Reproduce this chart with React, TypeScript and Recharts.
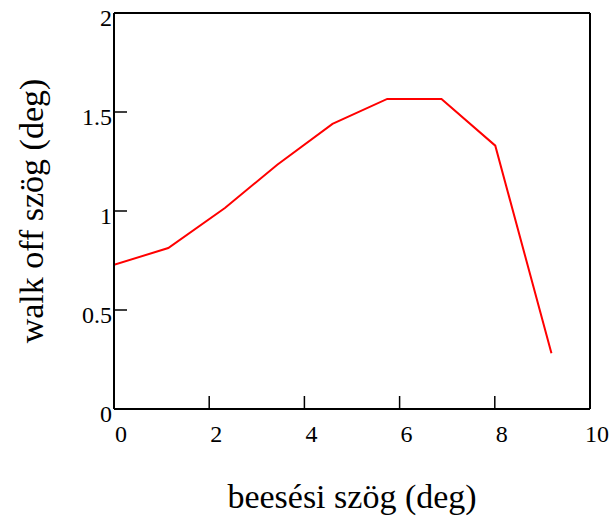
import { Line, LineChart, XAxis, YAxis } from "recharts"

// incidence angle (deg) vs walk-off angle (deg)
const incidence = [0, 1.14, 2.33, 3.43, 4.59, 5.74, 6.88, 8.01, 9.19]
const walkOff = [0.728, 0.813, 1.015, 1.234, 1.44, 1.566, 1.566, 1.33, 0.282]

const xTicks = [0, 2, 4, 6, 8, 10]
const yTicks = [0, 0.5, 1, 1.5, 2]

const xTitle = "beesési szög (deg)"
const yTitle = "walk off szög (deg)"

const data = incidence.map((x, i) => ({ x, y: walkOff[i] }))

const font = "'Liberation Serif', 'Times New Roman', serif"
const axisLine = { stroke: "#000", strokeWidth: 2 }
const tickLine = { stroke: "#000", strokeWidth: 1.5 }

function XTick(props: any) {
  const { x, y, payload } = props
  return (
    <text x={x + 7} y={y + 33} textAnchor="middle" fontSize={24} fontFamily={font} fill="#000">
      {payload.value}
    </text>
  )
}

function YTick(props: any) {
  const { x, y, payload } = props
  return (
    <text x={x} y={y + 13} textAnchor="end" fontSize={24} fontFamily={font} fill="#000">
      {payload.value}
    </text>
  )
}

export default function App() {
  return (
    <div style={{ position: "absolute", left: 0, top: 0 }}>
      <LineChart
        width={611}
        height={517}
        data={data}
        margin={{ top: 12, right: 20, bottom: 107, left: 113 }}
      >
        <XAxis
          dataKey="x"
          type="number"
          domain={[0, 10]}
          ticks={xTicks}
          allowDataOverflow
          height={1}
          tickSize={-13}
          tickMargin={13}
          axisLine={axisLine}
          tickLine={tickLine}
          tick={<XTick />}
          label={{
            content: ({ viewBox }: any) => (
              <text
                x={viewBox.x + viewBox.width / 2}
                y={508}
                textAnchor="middle"
                fontSize={34}
                fontFamily={font}
                fill="#000"
              >
                {xTitle}
              </text>
            ),
          }}
        />
        <XAxis
          xAxisId="top"
          orientation="top"
          dataKey="x"
          type="number"
          domain={[0, 10]}
          ticks={xTicks}
          allowDataOverflow
          height={1}
          tickSize={-13}
          axisLine={axisLine}
          tickLine={tickLine}
          tick={false}
        />
        <YAxis
          type="number"
          domain={[0, 2]}
          ticks={yTicks}
          allowDataOverflow
          width={1}
          tickSize={-13}
          tickMargin={15}
          axisLine={axisLine}
          tickLine={tickLine}
          tick={<YTick />}
          label={{
            content: ({ viewBox }: any) => {
              const cy = viewBox.y + viewBox.height / 2
              return (
                <text
                  x={43}
                  y={cy}
                  transform={`rotate(-90, 43, ${cy})`}
                  textAnchor="middle"
                  fontSize={34}
                  fontFamily={font}
                  fill="#000"
                >
                  {yTitle}
                </text>
              )
            },
          }}
        />
        <YAxis
          yAxisId="right"
          orientation="right"
          type="number"
          domain={[0, 2]}
          ticks={yTicks}
          allowDataOverflow
          width={1}
          tickSize={-13}
          axisLine={axisLine}
          tickLine={tickLine}
          tick={false}
        />
        <Line
          dataKey="y"
          type="linear"
          stroke="#ff0000"
          strokeWidth={2}
          dot={false}
          isAnimationActive={false}
        />
        <Line
          xAxisId="top"
          yAxisId="right"
          dataKey="y"
          stroke="none"
          dot={false}
          activeDot={false}
          legendType="none"
          isAnimationActive={false}
        />
      </LineChart>
    </div>
  )
}
